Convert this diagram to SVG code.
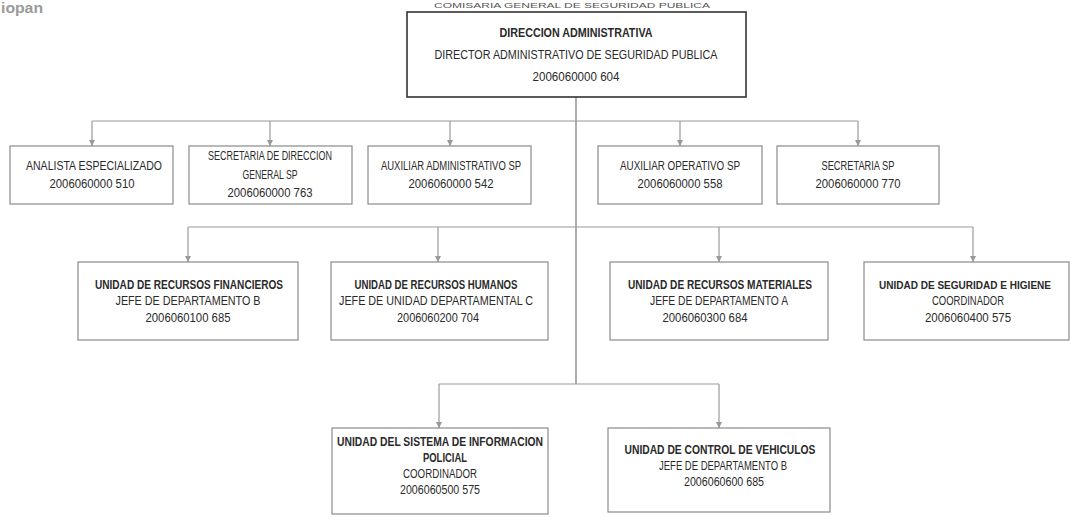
<svg xmlns="http://www.w3.org/2000/svg" width="1071" height="517" viewBox="0 0 1071 517">
<defs>
<style>
text{font-family:"Liberation Sans",Arial,sans-serif;font-size:12px;fill:#2a2a2a;text-anchor:middle;}
.b{font-weight:bold;}
.sm{font-size:11px;}
.box{fill:#fff;stroke:#8a8a8a;stroke-width:1.2;}
.main{fill:#fff;stroke:#333;stroke-width:1.6;}
.ln{fill:none;stroke:#999;stroke-width:1.2;}
.trunk{fill:none;stroke:#777;stroke-width:1.2;}
.hdr{font-size:8px;fill:#555;}
.logo{font-size:15px;font-weight:bold;fill:#9a9a9a;text-anchor:start;}
</style>
<marker id="ah" viewBox="0 0 10 10" refX="10" refY="5" markerWidth="6" markerHeight="6" markerUnits="userSpaceOnUse" orient="auto">
<path d="M0,0 L10,5 L0,10 z" fill="#999"/>
</marker>
</defs>
<rect width="1071" height="517" fill="#fff"/>
<text class="logo" x="1" y="13" textLength="42" lengthAdjust="spacingAndGlyphs">iopan</text>
<text class="hdr" x="572" y="8" textLength="276" lengthAdjust="spacingAndGlyphs">COMISARIA GENERAL DE SEGURIDAD PUBLICA</text>
<g id="connectors">
<path class="trunk" d="M576,97 V384"/>
<path class="ln" d="M92,121 H858"/>
<path class="ln" d="M92,121 V146" marker-end="url(#ah)"/>
<path class="ln" d="M270,121 V146" marker-end="url(#ah)"/>
<path class="ln" d="M450,121 V146" marker-end="url(#ah)"/>
<path class="ln" d="M680,121 V146" marker-end="url(#ah)"/>
<path class="ln" d="M858,121 V146" marker-end="url(#ah)"/>
<path class="ln" d="M188,227 H973"/>
<path class="ln" d="M188,227 V262" marker-end="url(#ah)"/>
<path class="ln" d="M438,227 V262" marker-end="url(#ah)"/>
<path class="ln" d="M719,227 V262" marker-end="url(#ah)"/>
<path class="ln" d="M973,227 V262" marker-end="url(#ah)"/>
<path class="ln" d="M439,384 H719"/>
<path class="ln" d="M439,384 V428" marker-end="url(#ah)"/>
<path class="ln" d="M719,384 V428" marker-end="url(#ah)"/>
</g>
<g id="direccion">
<rect class="main" x="407" y="12" width="339" height="85"/>
<text class="b" x="576" y="37" textLength="153" lengthAdjust="spacingAndGlyphs">DIRECCION ADMINISTRATIVA</text>
<text x="576" y="59" textLength="283" lengthAdjust="spacingAndGlyphs">DIRECTOR ADMINISTRATIVO DE SEGURIDAD PUBLICA</text>
<text x="576" y="81" textLength="87" lengthAdjust="spacingAndGlyphs">2006060000 604</text>
</g>
<g id="analista">
<rect class="box" x="10" y="146" width="163" height="58"/>
<text x="94" y="170" textLength="136" lengthAdjust="spacingAndGlyphs">ANALISTA ESPECIALIZADO</text>
<text x="92" y="188" textLength="85" lengthAdjust="spacingAndGlyphs">2006060000 510</text>
</g>
<g id="secretaria-direccion">
<rect class="box" x="189" y="146" width="163" height="58"/>
<text x="270" y="160" textLength="124" lengthAdjust="spacingAndGlyphs">SECRETARIA DE DIRECCION</text>
<text x="270" y="179" textLength="55" lengthAdjust="spacingAndGlyphs">GENERAL SP</text>
<text x="270" y="197" textLength="85" lengthAdjust="spacingAndGlyphs">2006060000 763</text>
</g>
<g id="auxiliar-administrativo">
<rect class="box" x="368" y="146" width="163" height="58"/>
<text x="451" y="170" textLength="140" lengthAdjust="spacingAndGlyphs">AUXILIAR ADMINISTRATIVO SP</text>
<text x="451" y="188" textLength="85" lengthAdjust="spacingAndGlyphs">2006060000 542</text>
</g>
<g id="auxiliar-operativo">
<rect class="box" x="598" y="146" width="164" height="58"/>
<text x="680" y="170" textLength="120" lengthAdjust="spacingAndGlyphs">AUXILIAR OPERATIVO SP</text>
<text x="680" y="188" textLength="85" lengthAdjust="spacingAndGlyphs">2006060000 558</text>
</g>
<g id="secretaria-sp">
<rect class="box" x="777" y="146" width="162" height="58"/>
<text x="858" y="170" textLength="73" lengthAdjust="spacingAndGlyphs">SECRETARIA SP</text>
<text x="858" y="188" textLength="85" lengthAdjust="spacingAndGlyphs">2006060000 770</text>
</g>
<g id="recursos-financieros">
<rect class="box" x="78" y="262" width="220" height="78"/>
<text class="b" x="189" y="289" textLength="188" lengthAdjust="spacingAndGlyphs">UNIDAD DE RECURSOS FINANCIEROS</text>
<text x="188" y="305" textLength="145" lengthAdjust="spacingAndGlyphs">JEFE DE DEPARTAMENTO B</text>
<text x="188" y="322" textLength="85" lengthAdjust="spacingAndGlyphs">2006060100 685</text>
</g>
<g id="recursos-humanos">
<rect class="box" x="331" y="262" width="217" height="78"/>
<text class="b" x="436" y="289" textLength="163" lengthAdjust="spacingAndGlyphs">UNIDAD DE RECURSOS HUMANOS</text>
<text x="436" y="305" textLength="194" lengthAdjust="spacingAndGlyphs">JEFE DE UNIDAD DEPARTAMENTAL C</text>
<text x="438" y="322" textLength="82" lengthAdjust="spacingAndGlyphs">2006060200 704</text>
</g>
<g id="recursos-materiales">
<rect class="box" x="610" y="262" width="218" height="78"/>
<text class="b" x="720" y="289" textLength="184" lengthAdjust="spacingAndGlyphs">UNIDAD DE RECURSOS MATERIALES</text>
<text x="719" y="305" textLength="138" lengthAdjust="spacingAndGlyphs">JEFE DE DEPARTAMENTO A</text>
<text x="705" y="322" textLength="85" lengthAdjust="spacingAndGlyphs">2006060300 684</text>
</g>
<g id="seguridad-higiene">
<rect class="box" x="864" y="262" width="205" height="78"/>
<text class="b sm" x="965" y="289" textLength="172" lengthAdjust="spacingAndGlyphs">UNIDAD DE SEGURIDAD E HIGIENE</text>
<text x="968" y="305" textLength="72" lengthAdjust="spacingAndGlyphs">COORDINADOR</text>
<text x="968" y="322" textLength="86" lengthAdjust="spacingAndGlyphs">2006060400 575</text>
</g>
<g id="sistema-informacion">
<rect class="box" x="332" y="428" width="216" height="86"/>
<text class="b" x="440" y="446" textLength="206" lengthAdjust="spacingAndGlyphs">UNIDAD DEL SISTEMA DE INFORMACION</text>
<text class="b" x="445" y="462" textLength="44" lengthAdjust="spacingAndGlyphs">POLICIAL</text>
<text x="440" y="478" textLength="74" lengthAdjust="spacingAndGlyphs">COORDINADOR</text>
<text x="440" y="494" textLength="80" lengthAdjust="spacingAndGlyphs">2006060500 575</text>
</g>
<g id="control-vehiculos">
<rect class="box" x="608" y="428" width="222" height="84"/>
<text class="b" x="720" y="454" textLength="191" lengthAdjust="spacingAndGlyphs">UNIDAD DE CONTROL DE VEHICULOS</text>
<text x="723" y="470" textLength="128" lengthAdjust="spacingAndGlyphs">JEFE DE DEPARTAMENTO B</text>
<text x="724" y="486" textLength="80" lengthAdjust="spacingAndGlyphs">2006060600 685</text>
</g>
</svg>
